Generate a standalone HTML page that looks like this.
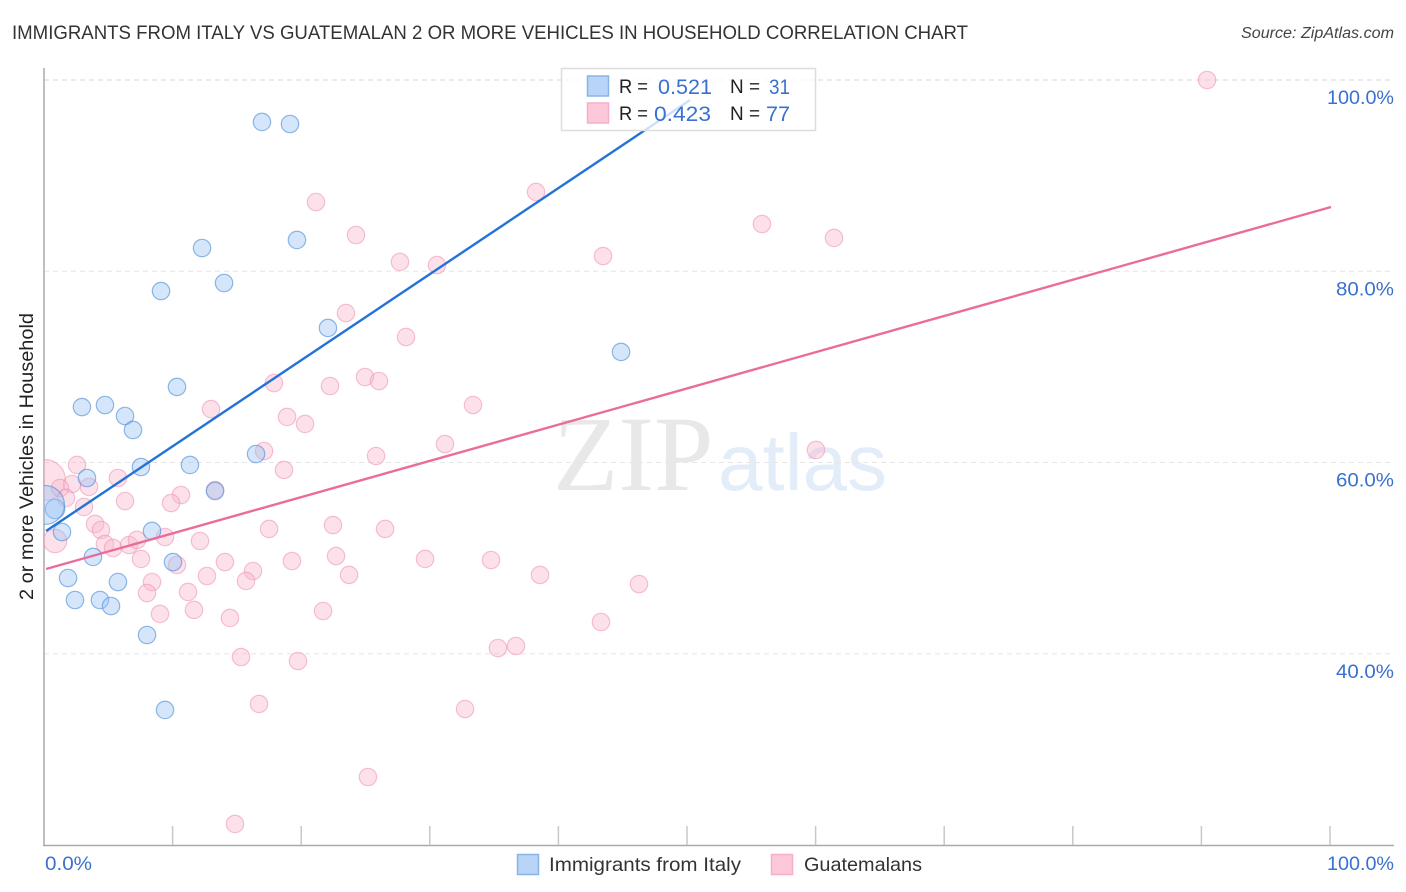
<!DOCTYPE html>
<html>
<head>
<meta charset="utf-8">
<title>Immigrants from Italy vs Guatemalan correlation chart</title>
<style>
html,body{margin:0;padding:0;background:#fff;}
svg{display:block;font-family:"Liberation Sans",sans-serif;}
</style>
</head>
<body>
<svg id="chart" width="1406" height="892" viewBox="0 0 1406 892">
  <defs><clipPath id="plot-clip"><rect x="44" y="60" width="1350" height="785"/></clipPath></defs>
  <rect x="0" y="0" width="1406" height="892" fill="#fff"/>
  <text x="12" y="39" font-size="19.5" fill="#333" textLength="956" lengthAdjust="spacingAndGlyphs">IMMIGRANTS FROM ITALY VS GUATEMALAN 2 OR MORE VEHICLES IN HOUSEHOLD CORRELATION CHART</text>
  <text x="1241" y="38" font-size="15.5" font-style="italic" fill="#444" textLength="153" lengthAdjust="spacingAndGlyphs">Source: ZipAtlas.com</text>
  <g>
    <text x="553" y="490" font-family="'Liberation Serif',serif" font-size="107" fill="#e8e8e8">ZIP</text>
    <text x="718" y="490" font-size="80" fill="#e3edf9">atlas</text>
  </g>
  <g id="grid"></g>
  <g id="axes"></g>
  <g id="marks" clip-path="url(#plot-clip)"></g>
  <g id="trends"></g>
  <text transform="translate(33,456.5) rotate(-90)" font-size="19.5" fill="#222" text-anchor="middle" textLength="287" lengthAdjust="spacingAndGlyphs">2 or more Vehicles in Household</text>

  <g>
    <rect x="561.5" y="68.5" width="254" height="62" fill="#fff" fill-opacity="0.78" stroke="#ddd" stroke-width="1.5"/>
    <rect x="587.5" y="76" width="21" height="20" fill="#b8d4f6" stroke="#8ab4e8" stroke-width="1.5"/>
    <rect x="587.5" y="103" width="21" height="20" fill="#fcc8da" stroke="#f5afc8" stroke-width="1.5"/>
    <text x="619" y="93" font-size="19.5" fill="#222" textLength="29" lengthAdjust="spacingAndGlyphs">R =</text>
    <text x="658" y="94" font-size="21.5" fill="#3a70d0" textLength="54" lengthAdjust="spacingAndGlyphs">0.521</text>
    <text x="730" y="93" font-size="19.5" fill="#222" textLength="30" lengthAdjust="spacingAndGlyphs">N =</text>
    <text x="769" y="94" font-size="21.5" fill="#3a70d0" textLength="21" lengthAdjust="spacingAndGlyphs">31</text>
    <text x="619" y="120" font-size="19.5" fill="#222" textLength="29" lengthAdjust="spacingAndGlyphs">R =</text>
    <text x="654" y="121" font-size="21.5" fill="#3a70d0" textLength="57" lengthAdjust="spacingAndGlyphs">0.423</text>
    <text x="730" y="120" font-size="19.5" fill="#222" textLength="30" lengthAdjust="spacingAndGlyphs">N =</text>
    <text x="766" y="121" font-size="21.5" fill="#3a70d0" textLength="24" lengthAdjust="spacingAndGlyphs">77</text>
  </g>

  <g>
    <rect x="517.5" y="854.5" width="21" height="20" fill="#b8d4f6" stroke="#8ab4e8" stroke-width="1.5"/>
    <text x="549" y="871" font-size="19.5" fill="#333" textLength="192" lengthAdjust="spacingAndGlyphs">Immigrants from Italy</text>
    <rect x="771.5" y="854.5" width="21" height="20" fill="#fcc8da" stroke="#f5afc8" stroke-width="1.5"/>
    <text x="804" y="871" font-size="19.5" fill="#333" textLength="118" lengthAdjust="spacingAndGlyphs">Guatemalans</text>
  </g>
</svg>
<script>
const yTickValues = [100, 80, 60, 40];
const xTickValues = [10, 20, 30, 40, 50, 60, 70, 80, 90, 100];
const xEndLabels = ["0.0%", "100.0%"];

const italyX = [16.95,19.13,19.67,12.29,14.0,9.10,22.08,44.87,10.34,2.95,4.74,6.30,6.92,7.54,11.35,16.49,3.34,13.30,0.86,0.08,1.40,8.40,3.81,10.03,1.87,5.75,2.41,4.35,5.21,8.01,9.41];
const italyY = [95.61,95.40,83.27,82.43,78.77,77.93,74.07,71.56,67.90,65.80,66.01,64.86,63.40,59.53,59.74,60.89,58.38,57.02,55.14,55.56,52.73,52.84,50.12,49.59,47.92,47.50,45.62,45.62,44.99,41.96,34.12];
const italyWeight = [1,1,1,1,1,1,1,1,1,1,1,1,1,1,1,1,1,1,1.25,5,1,1,1,1,1,1,1,1,1,1,1];

const guatemalanX = [90.44,38.26,21.15,24.26,55.83,61.43,43.47,27.68,30.56,23.48,28.15,24.96,26.05,22.24,17.88,33.36,12.99,18.90,20.30,31.18,17.11,25.82,60.03,18.66,2.57,5.75,0.08,2.18,1.24,3.50,10.65,13.30,6.30,9.88,1.71,3.11,3.97,4.43,17.50,22.47,26.52,0.86,4.74,5.37,6.61,7.23,9.41,12.13,7.54,10.34,14.07,22.71,19.28,29.63,34.76,16.25,12.67,15.71,23.72,38.57,46.27,8.40,8.01,11.20,9.02,11.66,14.46,21.70,43.31,35.30,36.70,15.32,19.75,16.72,32.74,25.19,14.85];
const guatemalanY = [100,88.29,87.24,83.79,84.94,83.48,81.59,80.97,80.65,75.63,73.12,68.94,68.52,68.0,68.31,66.01,65.59,64.76,64.03,61.93,61.20,60.68,61.31,59.22,59.74,58.38,58.17,57.75,57.33,57.44,56.60,57.12,55.97,55.76,56.29,55.35,53.57,52.94,53.05,53.46,53.05,51.79,51.48,51.06,51.37,51.90,52.21,51.79,49.91,49.28,49.59,50.22,49.70,49.91,49.80,48.65,48.13,47.61,48.24,48.24,47.29,47.50,46.35,46.46,44.16,44.58,43.74,44.47,43.32,40.60,40.81,39.66,39.24,34.75,34.22,27.11,22.20];
const guatemalanWeight = [1,1,1,1,1,1,1,1,1,1,1,1,1,1,1,1,1,1,1,1,1,1,1,1,1,1,5.5,1,1,1,1,1,1,1,1,1,1,1,1,1,1,1.8,1,1,1,1,1,1,1,1,1,1,1,1,1,1,1,1,1,1,1,1,1,1,1,1,1,1,1,1,1,1,1,1,1,1,1];

const italyTrendX = [0.16, 50.23];
const italyTrendY = [52.84, 97.9];
const guatemalanTrendX = [0.16, 100.08];
const guatemalanTrendY = [48.86, 86.72];

const NS = 'http://www.w3.org/2000/svg';
function xScale(v){ return 44 + v * 12.86; }
function yScale(v){ return 80 + (100 - v) * 9.5625; }
function make(tag, attrs, parent){
  const el = document.createElementNS(NS, tag);
  for (const k in attrs) el.setAttribute(k, attrs[k]);
  parent.appendChild(el);
  return el;
}

const grid = document.getElementById('grid');
const axes = document.getElementById('axes');
const marks = document.getElementById('marks');
const trends = document.getElementById('trends');

yTickValues.forEach(function(v, i){
  const y = yScale(v);
  const line = make('line', {x1:44, x2:1394, y1:y, y2:y, stroke: i === 0 ? '#d4d4d4' : '#e6e6e6', 'stroke-width':1, 'stroke-dasharray':'5 4'}, grid);
  
  
  const text = v.toFixed(1) + '%';
  const label = make('text', {x:1394 - (text.length === 6 ? 67 : 58), y:y + 24, 'font-size':19.5, fill:'#3a70d0', textLength: text.length === 6 ? 67 : 58, lengthAdjust:'spacingAndGlyphs'}, axes);
  
  
  label.textContent = text;
});

const yAxis = make('line', {x1:44, x2:44, y1:68, y2:846, stroke:'#aaa', 'stroke-width':1.5}, axes);


const xAxis = make('line', {x1:43, x2:1394, y1:845.5, y2:845.5, stroke:'#aaa', 'stroke-width':1.5}, axes);



xTickValues.forEach(function(v){
  const x = xScale(v);
  const tick = make('line', {x1:x, x2:x, y1:826, y2:845, stroke:'#c8c8c8', 'stroke-width':1.5}, axes);
  
  
});

const xLabelLeft = make('text', {x:45, y:870, 'font-size':19.5, fill:'#3a70d0', textLength:47, lengthAdjust:'spacingAndGlyphs'}, axes);


xLabelLeft.textContent = xEndLabels[0];
const xLabelRight = make('text', {x:1327, y:870, 'font-size':19.5, fill:'#3a70d0', textLength:67, lengthAdjust:'spacingAndGlyphs'}, axes);


xLabelRight.textContent = xEndLabels[1];

guatemalanX.forEach(function(v, i){
  const c = make('circle', {cx:xScale(v), cy:yScale(guatemalanY[i]), r:8.7 * Math.sqrt(guatemalanWeight[i]), fill:'#f9b8ce', 'fill-opacity':0.42, stroke:'#ee8fb0', 'stroke-opacity':0.55, 'stroke-width':1.2}, marks);
  
  
});

italyX.forEach(function(v, i){
  const c = make('circle', {cx:xScale(v), cy:yScale(italyY[i]), r:8.7 * Math.sqrt(italyWeight[i]), fill:'#9cc4f2', 'fill-opacity':0.42, stroke:'#4a8ad8', 'stroke-opacity':0.6, 'stroke-width':1.2}, marks);
  
  
});

const trendItaly = make('line', {x1:xScale(italyTrendX[0]), y1:yScale(italyTrendY[0]), x2:xScale(italyTrendX[1]), y2:yScale(italyTrendY[1]), stroke:'#2272d8', 'stroke-width':2.4}, trends);


const trendGuatemalans = make('line', {x1:xScale(guatemalanTrendX[0]), y1:yScale(guatemalanTrendY[0]), x2:xScale(guatemalanTrendX[1]), y2:yScale(guatemalanTrendY[1]), stroke:'#ea6c9c', 'stroke-width':2.4}, trends);


</script>
</body>
</html>
